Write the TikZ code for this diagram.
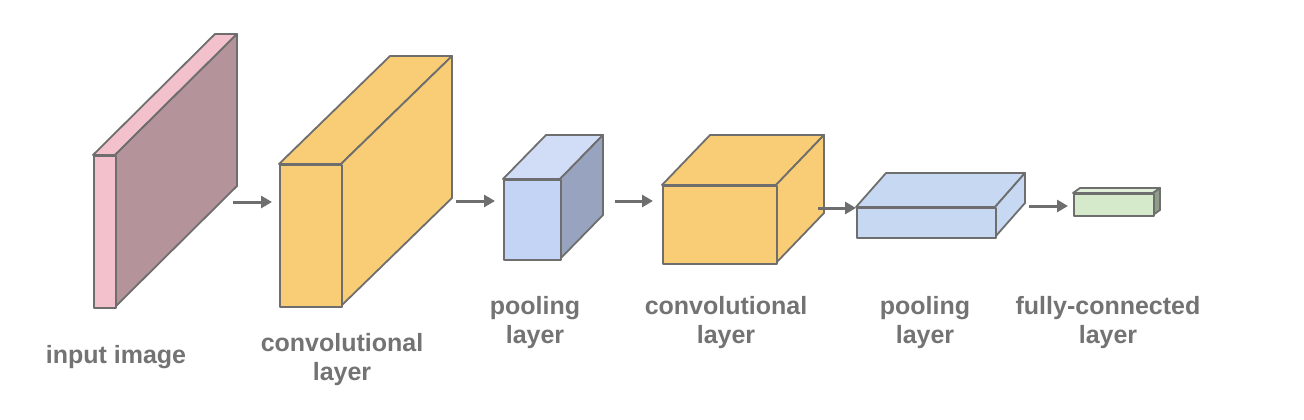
\documentclass[tikz,border=0pt]{standalone}
\usepackage{fontspec}
\setmainfont{Liberation Sans}
\usetikzlibrary{arrows.meta}
\definecolor{edge}{HTML}{6E6E6E}
\definecolor{txt}{HTML}{737373}
\definecolor{pinkf}{HTML}{F2C1CB}
\definecolor{mauve}{HTML}{B4939A}
\definecolor{conv}{HTML}{F8CD75}
\definecolor{poolf}{HTML}{C4D4F4}
\definecolor{poolt}{HTML}{D1DCF6}
\definecolor{pools}{HTML}{97A3BF}
\definecolor{pooltwo}{HTML}{C6D8F2}
\definecolor{fcf}{HTML}{D5EACB}
\definecolor{fct}{HTML}{E0F0D8}
\definecolor{fcs}{HTML}{8E9C8A}
\tikzset{
  face/.style={draw=edge, line width=1.8pt, line join=round},
  arr/.style={draw=edge, line width=3pt, -{Triangle[length=11pt,width=12pt]}},
  lbl/.style={text=txt, font=\bfseries\fontsize{25}{28.5}\selectfont, align=center, inner sep=0pt, anchor=base}
}
% #1 name, #2 x, #3 y, #4 w, #5 h, #6 dx, #7 dy, #8 {front}{top}{side}
\newcommand{\cuboid}[8]{%
  \path (#2,#3) coordinate (#1-ftl) ++(#4,0) coordinate (#1-ftr) ++(0,#5) coordinate (#1-fbr);
  \cuboidrest{#1}{#4}{#5}{#6}{#7}{#8}}
\newcommand{\cuboidrest}[6]{%
  \cuboidfaces{#1}{#2}{#3}{#4}{#5}#6}
\newcommand{\cuboidfaces}[8]{%
  \draw[face, fill=#7] (#1-ftl) -- ++(#4,#5) -- ++(#2,0) -- (#1-ftr) -- cycle;
  \draw[face, fill=#8] (#1-ftr) -- ++(#4,#5) -- ++(0,#3) -- (#1-fbr) -- cycle;
  \node[face, fill=#6, minimum width=#2pt, minimum height=#3pt, inner sep=0pt, anchor=north west] (#1) at (#1-ftl) {};}
\begin{document}
\begin{tikzpicture}[x=1pt,y=-1pt]
\useasboundingbox (0,0) rectangle (1304,420);
\fill[white] (0,0) rectangle (1304,420);
% cuboids
\cuboid{inp}{93}{155}{22}{152}{122}{-121}{{pinkf}{pinkf}{mauve}}
\cuboid{convA}{279}{164}{62}{142}{111}{-108}{{conv}{conv}{conv}}
\cuboid{poolA}{503}{179}{57}{80}{43}{-44}{{poolf}{poolt}{pools}}
\cuboid{convB}{662}{185}{114}{78}{48}{-50}{{conv}{conv}{conv}}
\cuboid{poolB}{856}{207}{139}{30}{30}{-34}{{pooltwo}{pooltwo}{pooltwo}}
\cuboid{fc}{1073}{193}{80}{22}{7}{-5}{{fcf}{fct}{fcs}}
% arrow endpoints
\coordinate (a1s) at (233,202); \coordinate (a1e) at (272,202);
\coordinate (a2s) at (456,201); \coordinate (a2e) at (495,201);
\coordinate (a3s) at (615,201); \coordinate (a3e) at (653,201);
\coordinate (a4s) at (818,208); \coordinate (a4e) at (856,208);
\coordinate (a5s) at (1029,206); \coordinate (a5e) at (1068,206);
\draw[arr] (a1s) -- (a1e);
\draw[arr] (a2s) -- (a2e);
\draw[arr] (a3s) -- (a3e);
\draw[arr] (a4s) -- (a4e);
\draw[arr] (a5s) -- (a5e);
% labels (anchor=base sits on the last line)
\node[lbl] (t1) at (116,363) {input image};
\node[lbl] (t2) at (342,380) {convolutional\\layer};
\node[lbl] (t3) at (535,343) {pooling\\layer};
\node[lbl] (t4) at (726,343) {convolutional\\layer};
\node[lbl] (t5) at (925,343) {pooling\\layer};
\node[lbl] (t6) at (1108,343) {fully-connected\\layer};
\end{tikzpicture}
\end{document}
